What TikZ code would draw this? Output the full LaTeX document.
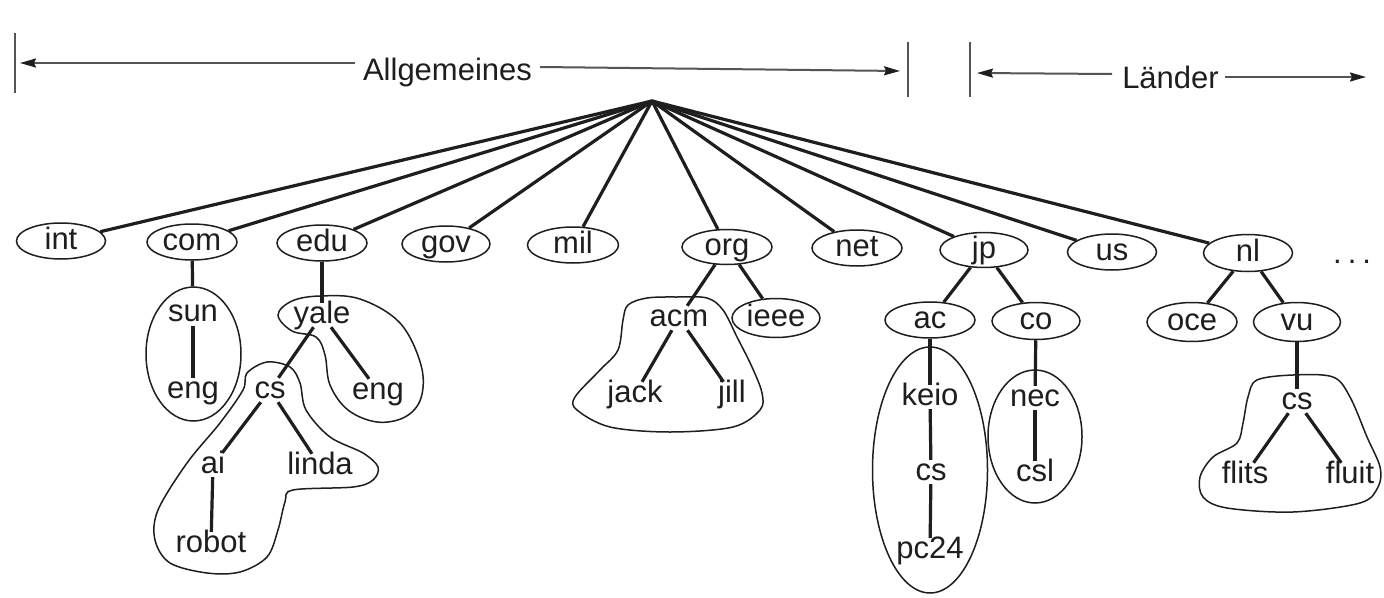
\documentclass[tikz,border=0pt]{standalone}
\usepackage{fontspec}
\setmainfont{Liberation Sans}
\usetikzlibrary{shapes.geometric,arrows.meta}
\definecolor{ink}{HTML}{1E1E1E}
\definecolor{rulegray}{HTML}{555555}
\begin{document}
\begin{tikzpicture}[x=1pt,y=-1pt,
  font=\fontsize{31}{37}\selectfont,
  every node/.style={text=ink},
  lbl/.style={inner sep=4pt, text height=16pt, text depth=0pt},
  oval/.style 2 args={draw=ink, line width=1.5pt, ellipse, inner sep=0pt,
    text height=16pt, text depth=0pt, minimum width=#1, minimum height=#2},
  ring/.style 2 args={draw=ink, line width=1.5pt, ellipse, inner sep=0pt,
    minimum width=#1, minimum height=#2},
  branch/.style={draw=ink, line width=3.2pt},
  hull/.style={draw=ink, line width=1.5pt},
  span/.style={draw=rulegray, line width=2pt},
  headed/.style={-{Stealth[length=16pt,width=9pt,inset=2pt,color=ink]}}]
\useasboundingbox (0,0) rectangle (1384,597);
\fill[white] (0,0) rectangle (1384,597);

% ---- header: general domains and country domains ----
\draw[span] (15,33) -- (15,93);
\draw[span] (908,42) -- (908,97);
\draw[span] (970,42) -- (970,97);
\node[anchor=base, inner sep=3pt] (allg) at (447.5,80) {Allgemeines};
\node[anchor=base, inner sep=3pt] (land) at (1170.5,88) {Länder};
\coordinate (a1) at (355,63);   \coordinate (a1t) at (20,63);
\coordinate (a2) at (540,67);   \coordinate (a2t) at (900,71);
\coordinate (l1) at (1112,74);  \coordinate (l1t) at (977,73);
\coordinate (l2) at (1225,77);  \coordinate (l2t) at (1366,77);
\draw[span,headed] (a1) -- (a1t);
\draw[span,headed] (a2) -- (a2t);
\draw[span,headed] (l1) -- (l1t);
\draw[span,headed] (l2) -- (l2t);

% ---- root and top-level domains ----
\coordinate (root) at (652,101);
\node[oval={89pt}{36pt}] (int) at (61,241) {int};
\node[oval={90pt}{36pt}] (com) at (192,242) {com};
\node[oval={90pt}{36pt}] (edu) at (322,243) {edu};
\node[oval={88pt}{36pt}] (gov) at (446,244) {gov};
\node[oval={91pt}{36pt}] (mil) at (573,245) {mil};
\node[oval={90pt}{35pt}] (org) at (727,247) {org};
\node[oval={90pt}{36pt}] (net) at (857,248) {net};
\node[oval={88pt}{35pt}] (jp)  at (984,250) {jp};
\node[oval={89pt}{36pt}] (us)  at (1112,252) {us};
\node[oval={89pt}{37pt}] (nl)  at (1248,253) {nl};
\node[anchor=base west, inner sep=0pt] (more) at (1333,263)
  {.\hspace{6pt}.\hspace{6pt}.};
\foreach \n in {int,com,edu,gov,mil,org,net,jp,us,nl}
  \draw[branch] (root) -- (\n);

% ---- com ----
\node[ring={95pt}{134pt}] (sunbox) at (193.5,354) {};
\node[lbl] (sun) at (193,313.5) {sun};
\node[lbl] (sunE) at (193,390) {eng};
\draw[branch] (com) -- (sunbox);
\draw[branch] (sun) -- (sunE);

% ---- edu ----
\node[lbl] (yale) at (322,315) {yale};
\node[lbl] (yaleE) at (378,391) {eng};
\node[lbl] (yaleC) at (270,390) {cs};
\node[lbl] (ai) at (213,465) {ai};
\node[lbl] (linda) at (320,466) {linda};
\node[lbl] (robot) at (211,544) {robot};
\draw[branch] (edu) -- (yale);
\draw[branch] (yale) -- (yaleC);
\draw[branch] (yale) -- (yaleE);
\draw[branch] (yaleC) -- (ai);
\draw[branch] (yaleC) -- (linda);
\draw[branch] (ai) -- (robot);
\draw[hull] plot[smooth cycle, tension=0.6] coordinates {
  (278,315) (292,301) (320,296) (360,299) (400,323) (421,365) (421,398)
  (405,417) (377,422) (348,410) (330,385) (325,355) (316,337) (292,331)};
\draw[hull] plot[smooth cycle, tension=0.55] coordinates {
  (267,362) (290,367) (300,383) (306,410) (330,437) (363,453) (378,467)
  (373,480) (353,487) (293,490) (285,502) (278,530) (267,557) (240,572)
  (207,573) (170,563) (155,540) (158,510) (187,463) (220,423) (243,390)
  (247,373)};

% ---- org ----
\node[lbl] (acm) at (679,318) {acm};
\node[oval={88pt}{39pt}] (ieee) at (776,318) {ieee};
\node[lbl] (jack) at (635,394) {jack};
\node[lbl] (jill) at (732,394) {jill};
\draw[branch] (org) -- (acm);
\draw[branch] (org) -- (ieee);
\draw[branch] (acm) -- (jack);
\draw[branch] (acm) -- (jill);
\draw[hull] plot[smooth cycle, tension=0.55] coordinates {
  (628,305) (647,298) (677,297) (707,298) (723,310) (737,337) (752,367)
  (762,393) (760,410) (733,427) (670,432) (610,427) (577,410) (575,397)
  (600,370) (618,350) (623,320)};

% ---- jp ----
\node[oval={90pt}{36pt}] (ac) at (930,320) {ac};
\node[oval={88pt}{37pt}] (co) at (1036,321) {co};
\node[ring={115pt}{246pt}] (keiobox) at (930,470) {};
\node[ring={94pt}{133pt}] (necbox) at (1035,436.5) {};
\node[lbl] (keio) at (930,397) {keio};
\node[lbl] (keioC) at (931,472) {cs};
\node[lbl] (pc) at (930,550) {pc24};
\node[lbl] (nec) at (1035,398) {nec};
\node[lbl] (csl) at (1035,473) {csl};
\draw[branch] (jp) -- (ac);
\draw[branch] (jp) -- (co);
\draw[branch] (ac) -- (keio);
\draw[branch] (keio) -- (keioC);
\draw[branch] (keioC) -- (pc);
\draw[branch] (co) -- (nec);
\draw[branch] (nec) -- (csl);

% ---- nl ----
\node[oval={90pt}{39pt}] (oce) at (1192,322) {oce};
\node[oval={87pt}{39pt}] (vu) at (1297,322) {vu};
\node[lbl] (vuC) at (1297,401) {cs};
\node[lbl] (flits) at (1245,475) {flits};
\node[lbl] (fluit) at (1350,475) {fluit};
\draw[branch] (nl) -- (oce);
\draw[branch] (nl) -- (vu);
\draw[branch] (vu) -- (vuC);
\draw[branch] (vuC) -- (flits);
\draw[branch] (vuC) -- (fluit);
\draw[hull] plot[smooth cycle, tension=0.55] coordinates {
  (1248,397) (1257,380) (1293,375) (1333,377) (1350,397) (1367,437)
  (1380,467) (1378,487) (1360,503) (1293,512) (1227,508) (1203,497)
  (1200,477) (1213,457) (1237,443) (1243,423)};
\end{tikzpicture}
\end{document}
